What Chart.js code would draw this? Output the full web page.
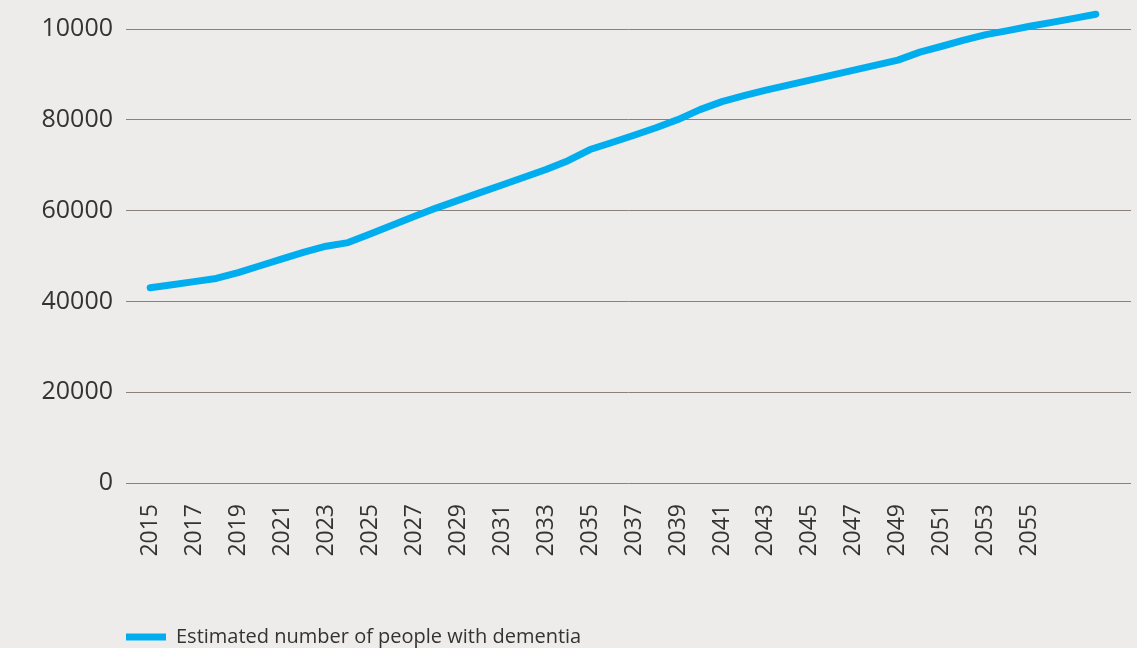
<!DOCTYPE html>
<html>
<head>
<meta charset="utf-8">
<title>Estimated number of people with dementia</title>
<script src="https://cdn.jsdelivr.net/npm/chart.js@4/dist/chart.umd.min.js"></script>
<style>
  html, body { margin: 0; padding: 0; background: #edecea; }
  #wrap { width: 1137px; height: 648px; position: relative; }
</style>
</head>
<body>
<div id="wrap"><canvas id="chart"></canvas></div>
<script>
// ---- data ----
const years = [2015, 2016, 2017, 2018, 2019, 2020, 2021, 2022, 2023, 2024,
  2025, 2026, 2027, 2028, 2029, 2030, 2031, 2032, 2033, 2034,
  2035, 2036, 2037, 2038, 2039, 2040, 2041, 2042, 2043, 2044,
  2045, 2046, 2047, 2048, 2049, 2050, 2051, 2052, 2053, 2054,
  2055, 2056, 2057, 2058];
const people = [43000, 43650, 44350, 45050, 46350, 47850, 49350, 50850, 52150, 52950,
  54850, 56750, 58700, 60550, 62250, 63950, 65650, 67350, 69050, 71000,
  73450, 75000, 76600, 78250, 80050, 82250, 84000, 85300, 86550, 87650,
  88750, 89850, 90950, 92050, 93150, 94900, 96200, 97550, 98750, 99650,
  100600, 101450, 102350, 103250];

const xTickYears = [2015, 2017, 2019, 2021, 2023, 2025, 2027, 2029, 2031, 2033, 2035,
  2037, 2039, 2041, 2043, 2045, 2047, 2049, 2051, 2053, 2055];
const yTickValues = [0, 20000, 40000, 60000, 80000, 100000];
const yTickLabels = ["0", "20000", "40000", "60000", "80000", "10000"];

const seriesLabel = "Estimated number of people with dementia";

const LINE_BLUE = "#00aeef";
const GRID = "#8a817b";
const TEXT = "#333333";
const FONT = "'Open Sans', 'Noto Sans', sans-serif";

const pts = years.map((y, i) => ({ x: y, y: people[i] }));

new Chart(document.getElementById("chart"), {
  type: "line",
  data: {
    datasets: [{
      label: seriesLabel,
      data: pts,
      borderColor: LINE_BLUE,
      backgroundColor: LINE_BLUE,
      borderWidth: 7,
      borderCapStyle: "round",
      borderJoinStyle: "round",
      pointRadius: 0,
      tension: 0,
      clip: false
    }]
  },
  options: {
    responsive: true,
    maintainAspectRatio: false,
    animation: false,
    // legend sits low, so the bottom padding goes negative
    layout: { padding: { left: 0, right: 6, top: 29, bottom: -9 } },
    plugins: {
      tooltip: { enabled: false },
      legend: {
        position: "bottom",
        align: "start",
        fullSize: false,
        labels: {
          usePointStyle: true,
          pointStyle: "line",
          pointStyleWidth: 40,
          padding: 0,
          color: TEXT,
          font: { family: FONT, size: 20 }
        }
      }
    },
    scales: {
      x: {
        type: "linear",
        min: 2013.9,
        max: 2059.6,
        grid: { display: false, drawTicks: false },
        border: { display: false },
        afterBuildTicks: (scale) => { scale.ticks = xTickYears.map(v => ({ value: v })); },
        afterFit: (scale) => { scale.height = 144; },
        ticks: {
          autoSkip: false,
          minRotation: 90,
          maxRotation: 90,
          padding: 21,
          color: TEXT,
          font: { family: FONT, size: 23 },
          callback: (v) => String(v)
        }
      },
      y: {
        min: 0,
        max: 100000,
        grid: { color: GRID, lineWidth: 1, drawTicks: false },
        border: { display: false },
        afterBuildTicks: (scale) => { scale.ticks = yTickValues.map(v => ({ value: v })); },
        afterFit: (scale) => { scale.width = 126; },
        ticks: {
          padding: 13,
          color: TEXT,
          font: { family: FONT, size: 25 },
          callback: (v, i) => yTickLabels[i]
        }
      }
    }
  }
});
</script>
</body>
</html>
